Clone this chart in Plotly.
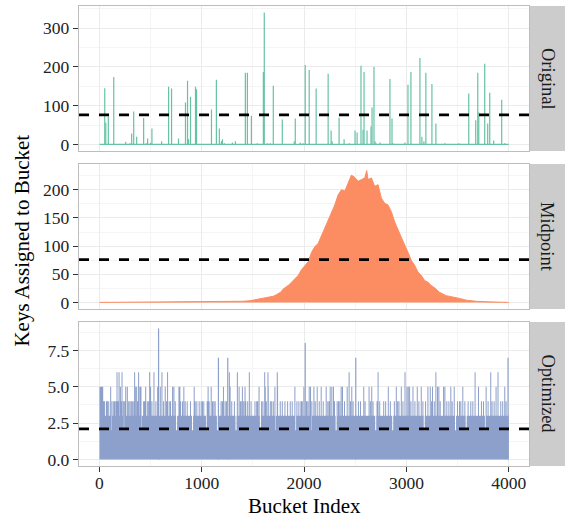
import plotly.graph_objects as go

FONT = "Liberation Serif"

facet_labels = ["Original", "Midpoint", "Optimized"]
facet_colors = ["#66C2A5", "#FC8D62", "#8DA0CB"]
n_buckets = 4000
x_tick_vals = [0, 1000, 2000, 3000, 4000]

# ---------------- Original: sparse spikes (bucket, keys) ----------------
orig_buckets = [52, 62, 87, 140, 257, 299, 315, 335, 364, 432, 458, 471, 500, 513, 608,
                676, 705, 773, 841, 861, 871, 890, 939, 949, 1095, 1143, 1172, 1192, 1202,
                1221, 1299, 1329, 1426, 1446, 1485, 1543, 1602, 1611, 1641, 1670, 1699,
                1787, 1904, 1914, 1962, 1991, 2011, 2050, 2118, 2235, 2264, 2274, 2342,
                2391, 2440, 2498, 2518, 2556, 2576, 2586, 2615, 2654, 2664, 2683, 2693,
                2703, 2742, 2839, 2859, 2869, 2985, 3015, 3044, 3132, 3151, 3171, 3190,
                3249, 3288, 3375, 3512, 3609, 3677, 3697, 3707, 3765, 3794, 3814, 3853,
                3931, 3960]
orig_keys = [145, 56, 72, 174, 7, 3, 28, 85, 20, 68, 3, 15, 4, 41, 8,
             149, 144, 15, 108, 164, 13, 123, 149, 142, 90, 167, 41, 8, 13,
             3, 5, 8, 185, 185, 74, 3, 187, 340, 3, 3, 151,
             64, 8, 67, 5, 3, 205, 192, 144, 182, 36, 8, 69,
             13, 3, 36, 31, 203, 38, 187, 36, 46, 95, 200, 8,
             3, 5, 169, 67, 3, 5, 154, 187, 223, 20, 8, 185,
             156, 54, 3, 3, 131, 62, 185, 82, 208, 54, 133, 10,
             115, 3]
orig_mean = 76

# ---------------- Midpoint: bell-shaped histogram ----------------
mid_buckets = [0, 1000, 1200, 1309, 1400, 1472, 1569, 1634, 1700, 1732, 1770, 1797, 1813,
               1845, 1878, 1910, 1943, 1975, 2008, 2040, 2073, 2105, 2138, 2170, 2203,
               2235, 2268, 2300, 2333, 2365, 2398, 2430, 2463, 2495, 2528, 2560, 2593,
               2612, 2625, 2658, 2690, 2723, 2755, 2788, 2820, 2853, 2885, 2918, 2950,
               2983, 3015, 3047, 3080, 3112, 3145, 3177, 3210, 3242, 3275, 3323, 3389,
               3453, 3519, 3584, 3681, 3800, 4000]
mid_keys = [0, 0.5, 1, 1, 2, 3, 6, 8, 11, 14, 18, 24, 26,
            30, 36, 42, 48, 58, 66, 72, 89, 99, 105, 118, 132,
            146, 161, 173, 191, 200, 198, 212, 226, 222, 215, 218, 221,
            234, 218, 221, 206, 209, 185, 176, 173, 161, 143, 129, 114,
            102, 89, 75, 66, 54, 48, 39, 36, 30, 26, 18, 12,
            10, 7, 4, 2, 1, 0]
mid_mean = 76

# ---------------- Optimized: nearly flat ----------------
opt_typical = 3
opt_low = 2
opt_low_buckets = [117, 240, 409, 754, 910, 1046, 1153, 1335, 1573, 1719, 1917, 2070,
                   2313, 2700, 2866, 3174, 3480, 3584, 3772]
opt_4_buckets = [39, 49, 68, 78, 91, 123, 140, 149, 162, 182, 214, 234, 247, 286, 299,
                 312, 325, 338, 374, 432, 442, 468, 481, 513, 552, 627, 656, 682, 695,
                 741, 793, 812, 838, 858, 890, 936, 952, 975, 994, 1007, 1020, 1053,
                 1072, 1105, 1118, 1131, 1189, 1202, 1228, 1241, 1293, 1319, 1378, 1391,
                 1410, 1430, 1449, 1482, 1520, 1537, 1547, 1585, 1598, 1631, 1670, 1683,
                 1699, 1767, 1787, 1813, 1839, 1865, 1884, 1930, 1949, 1969, 1982,
                 1972, 2024, 2037, 2076, 2109, 2148, 2187, 2232, 2245, 2297, 2323, 2336,
                 2349, 2395, 2453, 2479, 2531, 2551, 2596, 2648, 2674, 2713, 2739, 2778,
                 2797, 2843, 2882, 2914, 2927, 2966, 3044, 3083, 3122, 3161, 3187, 3246,
                 3272, 3330, 3395, 3415, 3447, 3499, 3519, 3532, 3571, 3603, 3629, 3649,
                 3733, 3753, 3798, 3837, 3857, 3922, 3941, 3974]
opt_5_buckets = [3, 13, 23, 32, 110, 205, 257, 273, 351, 364, 396, 406, 452, 500, 569,
                 595, 643, 715, 728, 777, 786, 825, 926, 1062, 1092, 1212, 1277, 1365,
                 1397, 1423, 1560, 1621, 1650, 1715, 1741, 1910, 1998,
                 2050, 2063, 2096, 2128, 2167, 2216, 2255, 2271, 2287, 2362, 2375, 2421,
                 2466, 2583, 2635, 2661, 2823, 2901, 2950, 3005, 3018, 3031, 3064, 3106,
                 3145, 3210, 3233, 3255, 3304, 3317, 3363, 3376, 3434, 3467, 3551, 3704,
                 3779, 3876, 3961]
opt_6_buckets = [172, 192, 221, 344, 383, 491, 533, 611, 666, 1270, 1348, 1465, 1615,
                 1647, 1738, 2440, 2723, 2986, 3288, 3671, 3824, 3895]
opt_peak_buckets = [578, 1163, 1254, 2011, 2505, 3993]
opt_peak_keys = [9, 7, 7, 8, 7, 7]
opt_mean = 2.1

y_tick_vals = [[0, 100, 200, 300], [0, 50, 100, 150, 200], [0, 2.5, 5, 7.5]]
y_tick_text = [["0", "100", "200", "300"], ["0", "50", "100", "150", "200"],
               ["0.0", "2.5", "5.0", "7.5"]]
y_minor = [50, 25, 1.25]
means = [orig_mean, mid_mean, opt_mean]

# one rendered pixel column covers about this many buckets
COLUMN = 10

fig = go.Figure()

# --- Original: spikes as vertical strokes + baseline
sx, sy = [], []
for b, k in zip(orig_buckets, orig_keys):
    sx += [b, b, None]
    sy += [0, k, None]
fig.add_trace(go.Scatter(x=[1, n_buckets], y=[0, 0], mode="lines",
                         line=dict(color=facet_colors[0], width=1.4),
                         xaxis="x", yaxis="y", hoverinfo="skip"))
fig.add_trace(go.Scatter(x=sx, y=sy, mode="lines",
                         line=dict(color=facet_colors[0], width=1.2),
                         xaxis="x", yaxis="y", hoverinfo="skip"))

# --- Midpoint: filled histogram outline
fig.add_trace(go.Scatter(x=mid_buckets, y=mid_keys, mode="lines",
                         fill="tozeroy", fillcolor=facet_colors[1],
                         line=dict(color=facet_colors[1], width=1),
                         xaxis="x2", yaxis="y2", hoverinfo="skip"))

# --- Optimized: per-bucket envelope
env = [opt_typical] * n_buckets
def put(b, v):
    lo = max(0, b - COLUMN // 2)
    hi = min(n_buckets, b + COLUMN // 2)
    for i in range(lo, hi):
        env[i] = v
for b in opt_low_buckets:
    put(b, opt_low)
for b in opt_4_buckets:
    put(b, 4)
for b in opt_5_buckets:
    put(b, 5)
for b in opt_6_buckets:
    put(b, 6)
ex = list(range(0, n_buckets + 1))
ey = env + [env[-1]]
fig.add_trace(go.Scatter(x=ex, y=ey, mode="lines", line_shape="hv",
                         fill="tozeroy", fillcolor=facet_colors[2],
                         line=dict(color=facet_colors[2], width=0),
                         xaxis="x3", yaxis="y3", hoverinfo="skip"))
px, py = [], []
for b, k in zip(opt_peak_buckets, opt_peak_keys):
    px += [b, b, None]
    py += [0, k, None]
fig.add_trace(go.Scatter(x=px, y=py, mode="lines",
                         line=dict(color=facet_colors[2], width=1.2),
                         xaxis="x3", yaxis="y3", hoverinfo="skip"))

maxes = [max(orig_keys), max(mid_keys), max(opt_peak_keys)]
domains = [[0.6848, 1.0], [0.3413, 0.6565], [0.0, 0.313]]
x_dom = [0, 0.9265]
grid_major = "#EBEBEB"
grid_minor = "#F5F5F5"
border = "#BDBDBD"
tick_font = dict(family=FONT, size=17.5, color="#222222")

layout = dict(width=565, height=519, margin=dict(l=79, r=0, t=6, b=53),
              paper_bgcolor="white", plot_bgcolor="white", showlegend=False)
for i in range(3):
    sfx = "" if i == 0 else str(i + 1)
    xa = dict(domain=x_dom, range=[-199.5, 4200.5], anchor="y" + sfx,
              tickvals=x_tick_vals, ticktext=[str(v) for v in x_tick_vals],
              showgrid=True, gridcolor=grid_major, gridwidth=1.1,
              minor=dict(tickvals=[500, 1500, 2500, 3500], showgrid=True,
                         gridcolor=grid_minor, gridwidth=0.6, ticks=""),
              zeroline=False, showline=True, mirror=True, linecolor=border, linewidth=1.3,
              tickfont=tick_font)
    if i < 2:
        xa.update(showticklabels=False, ticks="", matches="x3")
    else:
        xa.update(ticks="outside", ticklen=5, tickwidth=1.2, tickcolor="#333333",
                  ticklabelstandoff=-4)
    m = maxes[i]
    ya = dict(domain=domains[i], range=[-0.05 * m, 1.05 * m], anchor="x" + sfx,
              tickvals=y_tick_vals[i], ticktext=y_tick_text[i],
              showgrid=True, gridcolor=grid_major, gridwidth=1.1,
              minor=dict(dtick=y_minor[i], tick0=0, showgrid=True,
                         gridcolor=grid_minor, gridwidth=0.6, ticks=""),
              zeroline=False, showline=True, mirror=True, linecolor=border, linewidth=1.3,
              ticks="outside", ticklen=5, tickwidth=1.2, tickcolor="#333333",
              tickfont=tick_font)
    layout["xaxis" + sfx] = xa
    layout["yaxis" + sfx] = ya
fig.update_layout(**layout)

shapes = []
annotations = []
for i in range(3):
    sfx = "" if i == 0 else str(i + 1)
    shapes.append(dict(type="line", xref="x" + sfx + " domain", yref="y" + sfx,
                       x0=0, x1=1, y0=means[i], y1=means[i],
                       line=dict(color="black", width=2.7, dash="10px,10px"), layer="above"))
    shapes.append(dict(type="rect", xref="paper", yref="paper", x0=0.928, x1=1.0,
                       y0=domains[i][0], y1=domains[i][1], fillcolor="#CCCCCC",
                       line=dict(width=0), layer="below"))
    annotations.append(dict(text=facet_labels[i], xref="paper", yref="paper",
                            x=0.964, y=(domains[i][0] + domains[i][1]) / 2,
                            textangle=90, showarrow=False, xanchor="center", yanchor="middle",
                            font=dict(family=FONT, size=18.5, color="#1A1A1A")))
annotations.append(dict(text="Bucket Index", xref="paper", yref="paper",
                        x=x_dom[1] / 2, y=-0.087, showarrow=False,
                        xanchor="center", yanchor="middle",
                        font=dict(family=FONT, size=21, color="black")))
annotations.append(dict(text="Keys Assigned to Bucket", xref="paper", yref="paper",
                        x=-0.1173, y=0.49, textangle=-90, showarrow=False,
                        xanchor="center", yanchor="middle",
                        font=dict(family=FONT, size=21, color="black")))
fig.update_layout(shapes=shapes, annotations=annotations)

fig.write_html("out.html", config={"displayModeBar": False},
               post_script="document.body.style.margin='0';document.body.style.overflow='hidden';")
